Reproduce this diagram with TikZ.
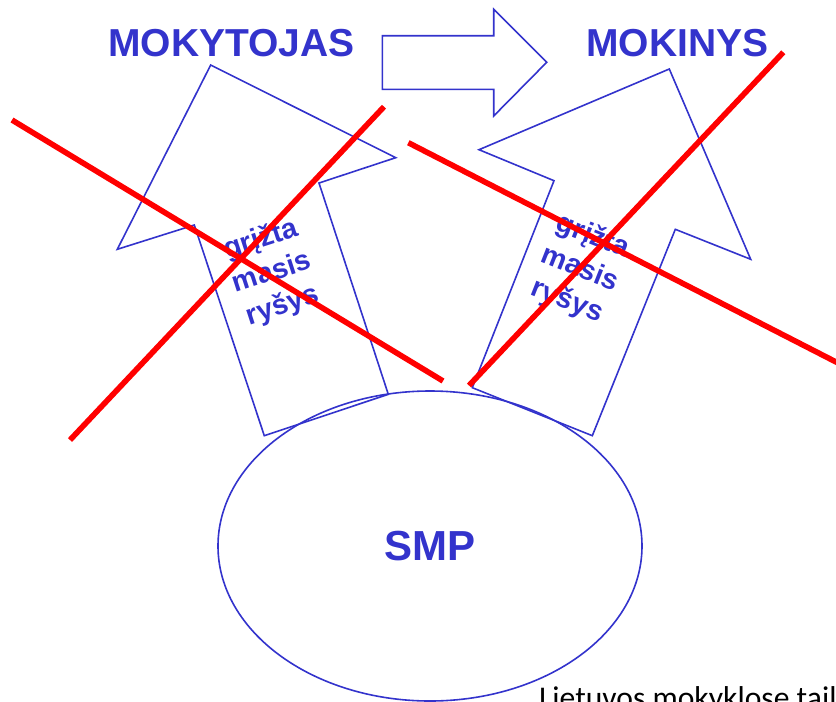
\documentclass[tikz,border=0pt]{standalone}
\usepackage{fontspec}
\setmainfont{Liberation Sans}
\newfontfamily\calibrifont{Carlito}
\usetikzlibrary{shapes.geometric}
\definecolor{dblue}{HTML}{3333CC}
\definecolor{xred}{HTML}{FF0000}
\tikzset{
  outline/.style={draw=dblue, line width=1.6pt, line join=miter},
  title/.style={text=dblue, font=\fontsize{39}{44}\selectfont\bfseries, inner sep=0pt},
  shafttext/.style={text=dblue, font=\fontsize{28.5}{35}\selectfont\bfseries, align=center, inner sep=0pt},
  cross/.style={draw=xred, line width=5.6pt},
}
\begin{document}
\begin{tikzpicture}[x=1pt,y=-1pt]
\useasboundingbox (0,0) rectangle (836,702);
% titles
\node[title] (teacher) at (231.5,43) {MOKYTOJAS};
\node[title] (pupil) at (677.5,43) {MOKINYS};
% horizontal arrow
\coordinate (h1) at (382.3,35.7);
\coordinate (h2) at (493.7,35.7);
\coordinate (h3) at (493.7,9.3);
\coordinate (h4) at (546.7,62.3);
\coordinate (h5) at (493.7,116);
\coordinate (h6) at (493.7,89.3);
\coordinate (h7) at (382.3,89.3);
\draw[outline] (h1) -- (h2) -- (h3) -- (h4) -- (h5) -- (h6) -- (h7) -- cycle;
% left tilted arrow
\coordinate (l1) at (210.7,65);
\coordinate (l2) at (395.7,157.7);
\coordinate (l3) at (319,183);
\coordinate (l4) at (388.3,394.3);
\coordinate (l5) at (264.3,435.7);
\coordinate (l6) at (194.3,225);
\coordinate (l7) at (117.3,249.3);
\draw[outline] (l1) -- (l2) -- (l3) -- (l4) -- (l5) -- (l6) -- (l7) -- cycle;
% right tilted arrow
\coordinate (r1) at (669.3,69);
\coordinate (r2) at (750.7,259.3);
\coordinate (r3) at (675.3,229.3);
\coordinate (r4) at (592.3,435.7);
\coordinate (r5) at (472.3,387.7);
\coordinate (r6) at (554,180.7);
\coordinate (r7) at (479,149.7);
\draw[outline] (r1) -- (r2) -- (r3) -- (r4) -- (r5) -- (r6) -- (r7) -- cycle;
% ellipse
\node[outline, ellipse, minimum width=424pt, minimum height=310pt, inner sep=0pt,
      text=dblue, font=\fontsize{42}{48}\selectfont\bfseries] (smp) at (430,546) {SMP};
% shaft texts
\node[shafttext, rotate=18] (ltext) at (272,273) {grįžta\\masis\\ryšys};
\node[shafttext, rotate=-21.6] (rtext) at (580,269) {grįžta\\masis\\ryšys};
% red crosses
\coordinate (c1a) at (12,120);
\coordinate (c1b) at (443,381);
\coordinate (c2a) at (70,440);
\coordinate (c2b) at (384,106.7);
\coordinate (c3a) at (408.3,142.7);
\coordinate (c3b) at (840,364);
\coordinate (c4a) at (469,385.5);
\coordinate (c4b) at (783.3,52.3);
\draw[cross] (c1a) -- (c1b);
\draw[cross] (c2a) -- (c2b);
\draw[cross] (c3a) -- (c3b);
\draw[cross] (c4a) -- (c4b);
% bottom caption (cut off)
\begin{scope}
\clip (0,0) rectangle (836,702);
\node[anchor=base west, inner sep=0pt, font=\calibrifont\fontsize{31.6}{38}\selectfont] (caption) at (539,708.5) {Lietuvos mokyklose tail};
\end{scope}
\end{tikzpicture}
\end{document}
